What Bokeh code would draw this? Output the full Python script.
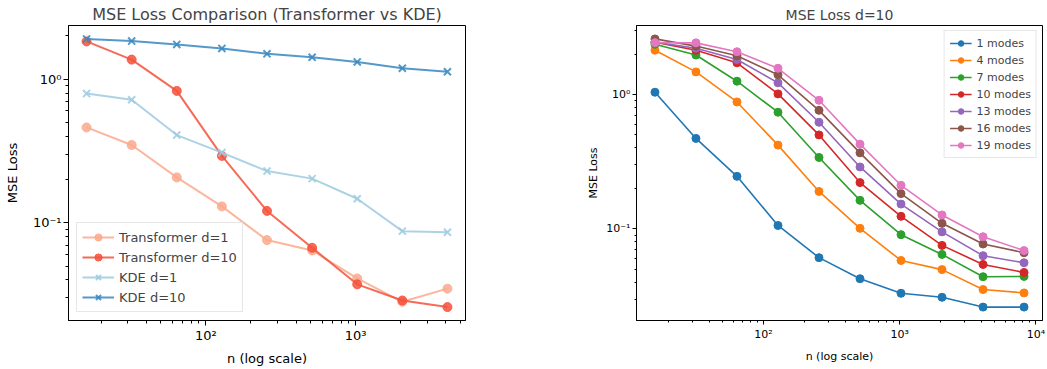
import numpy as np
from bokeh.plotting import figure
from bokeh.layouts import row
from bokeh.models import FixedTicker, CustomJSTickFormatter, Range1d, Legend
from bokeh.embed import file_html
from bokeh.resources import INLINE

# ---------------- data: left panel ----------------
n_left = [16, 32, 64, 128, 256, 512, 1024, 2048, 4096]
transformer_d1 = [0.461, 0.348, 0.207, 0.130, 0.0758, 0.0642, 0.0410, 0.0282, 0.0348]
transformer_d10 = [1.83, 1.367, 0.828, 0.292, 0.121, 0.067, 0.0373, 0.0288, 0.0259]
kde_d1 = [0.793, 0.719, 0.408, 0.308, 0.229, 0.203, 0.147, 0.0875, 0.086]
kde_d10 = [1.905, 1.84, 1.745, 1.635, 1.50, 1.42, 1.317, 1.19, 1.125]
left_title = "MSE Loss Comparison (Transformer vs KDE)"

# ---------------- data: right panel ----------------
n_right = [16, 32, 64, 128, 256, 512, 1024, 2048, 4096, 8192]
modes_labels = ["1 modes", "4 modes", "7 modes", "10 modes", "13 modes", "16 modes", "19 modes"]
m1 = [1.039, 0.471, 0.246, 0.106, 0.0611, 0.0426, 0.0332, 0.0310, 0.0262, 0.0262]
m4 = [2.135, 1.472, 0.880, 0.420, 0.190, 0.101, 0.0582, 0.0498, 0.0354, 0.0334]
m7 = [2.36, 1.965, 1.255, 0.738, 0.340, 0.163, 0.0906, 0.0646, 0.0441, 0.0443]
m10 = [2.45, 2.13, 1.72, 1.01, 0.50, 0.221, 0.124, 0.0754, 0.0544, 0.0474]
m13 = [2.45, 2.21, 1.82, 1.22, 0.621, 0.289, 0.153, 0.095, 0.0632, 0.056]
m16 = [2.59, 2.29, 1.94, 1.40, 0.762, 0.368, 0.183, 0.110, 0.0772, 0.0665]
m19 = [2.43, 2.42, 2.08, 1.566, 0.905, 0.427, 0.211, 0.127, 0.0875, 0.069]
right_title = "MSE Loss d=10"

x_label = "n (log scale)"
y_label = "MSE Loss"

FONT = "DejaVu Sans"

SUP_JS = """
const e = Math.round(Math.log10(tick));
const sup = {'-':'\u207b','0':'\u2070','1':'\u00b9','2':'\u00b2','3':'\u00b3','4':'\u2074','5':'\u2075','6':'\u2076','7':'\u2077','8':'\u2078','9':'\u2079'};
return '10' + String(e).split('').map(c => sup[c]).join('');
"""


def log_range(vals, frac=0.05):
    lo, hi = np.log10(min(vals)), np.log10(max(vals))
    m = (hi - lo) * frac
    return Range1d(10 ** (lo - m), 10 ** (hi + m))


def minor_list(lo_exp, hi_exp):
    out = []
    for e in range(lo_exp, hi_exp + 1):
        for k in range(2, 10):
            out.append(k * 10.0 ** e)
    return out


def style(p, fs_tick, fs_label, tick_out, minor_out, title_fs):
    p.outline_line_color = "black"
    p.outline_line_width = 1
    p.xgrid.visible = False
    p.ygrid.visible = False
    p.title.text_font = FONT
    p.title.text_font_size = title_fs
    p.title.text_font_style = "normal"
    p.title.align = "center"
    for ax in (p.xaxis[0], p.yaxis[0]):
        ax.axis_line_color = "black"
        ax.major_tick_line_color = "black"
        ax.minor_tick_line_color = "black"
        ax.major_tick_in = 0
        ax.major_tick_out = tick_out
        ax.minor_tick_in = 0
        ax.minor_tick_out = minor_out
        ax.major_label_standoff = 2
        ax.axis_label_standoff = 3
        ax.major_label_text_line_height = 1.0
        ax.axis_label_text_line_height = 1.0
        ax.major_label_text_font = FONT
        ax.major_label_text_font_size = fs_tick
        ax.major_label_text_color = "black"
        ax.axis_label_text_font = FONT
        ax.axis_label_text_font_size = fs_label
        ax.axis_label_text_font_style = "normal"
        ax.axis_label_text_color = "black"
        ax.formatter = CustomJSTickFormatter(code=SUP_JS)


# ---------------- left figure ----------------
pl = figure(width=556, height=368, x_axis_type="log", y_axis_type="log",
            output_backend="svg", toolbar_location=None, title=left_title,
            x_range=log_range(n_left),
            y_range=log_range(transformer_d1 + transformer_d10 + kde_d1 + kde_d10),
            x_axis_label=x_label, y_axis_label=y_label,
            min_border_left=68, min_border_right=91, min_border_top=25, min_border_bottom=47)
style(pl, "13px", "13px", 5, 3, "16px")
pl.title.standoff = 3
pl.yaxis.axis_label_standoff = 10
pl.xaxis.axis_label_standoff = 5
pl.xaxis.ticker = FixedTicker(ticks=[100, 1000], minor_ticks=minor_list(1, 3))
pl.yaxis.ticker = FixedTicker(ticks=[0.1, 1], minor_ticks=minor_list(-2, 0))

left_series = [
    ("Transformer d=1", transformer_d1, "#fca98d", "circle"),
    ("Transformer d=10", transformer_d10, "#f4513a", "circle"),
    ("KDE d=1", kde_d1, "#9dcae1", "x"),
    ("KDE d=10", kde_d10, "#3787c0", "x"),
]
items = []
for lab, ys, col, mk in left_series:
    r1 = pl.line(n_left, ys, line_color=col, line_width=2, line_alpha=0.85)
    if mk == "circle":
        r2 = pl.scatter(n_left, ys, marker="circle", size=9, fill_color=col,
                        line_color=col, fill_alpha=0.85, line_alpha=0.85)
    else:
        r2 = pl.scatter(n_left, ys, marker="x", size=10, line_color=col,
                        line_width=2, line_alpha=0.85)
    items.append((lab, [r1, r2]))
leg = Legend(items=items, location="bottom_left")
leg.label_text_font = FONT
leg.label_text_font_size = "13px"
leg.glyph_width = 32
leg.glyph_height = 18
leg.label_height = 18
leg.spacing = 2
leg.padding = 5
leg.margin = 8
leg.border_line_color = "#d0d0d0"
leg.background_fill_alpha = 0.8
pl.add_layout(leg)

# ---------------- right figure ----------------
all_right = m1 + m4 + m7 + m10 + m13 + m16 + m19
pr = figure(width=491, height=368, x_axis_type="log", y_axis_type="log",
            output_backend="svg", toolbar_location=None, title=right_title,
            x_range=log_range(n_right), y_range=log_range(all_right),
            x_axis_label=x_label, y_axis_label=y_label,
            min_border_left=80, min_border_right=5, min_border_top=25, min_border_bottom=47)
style(pr, "11px", "11px", 4, 2, "14px")
pr.title.standoff = 5
pr.xaxis.major_label_standoff = 3
pr.xaxis.axis_label_standoff = 6
pr.xaxis.ticker = FixedTicker(ticks=[100, 1000, 10000], minor_ticks=minor_list(1, 3))
pr.yaxis.ticker = FixedTicker(ticks=[0.1, 1], minor_ticks=minor_list(-2, 0))

colors = ["#1f77b4", "#ff7f0e", "#2ca02c", "#d62728", "#9467bd", "#8c564b", "#e377c2"]
items = []
for lab, ys, col in zip(modes_labels, [m1, m4, m7, m10, m13, m16, m19], colors):
    r1 = pr.line(n_right, ys, line_color=col, line_width=1.6)
    r2 = pr.scatter(n_right, ys, marker="circle", size=8, fill_color=col, line_color=col)
    items.append((lab, [r1, r2]))
leg2 = Legend(items=items, location="top_right")
leg2.label_text_font = FONT
leg2.label_text_font_size = "11px"
leg2.glyph_width = 22
leg2.glyph_height = 14
leg2.label_height = 14
leg2.spacing = 3
leg2.padding = 5
leg2.margin = 5
leg2.border_line_color = "#d0d0d0"
leg2.background_fill_alpha = 0.8
pr.add_layout(leg2)

layout = row(pl, pr)
open("out.html", "w").write(file_html(layout, INLINE))
